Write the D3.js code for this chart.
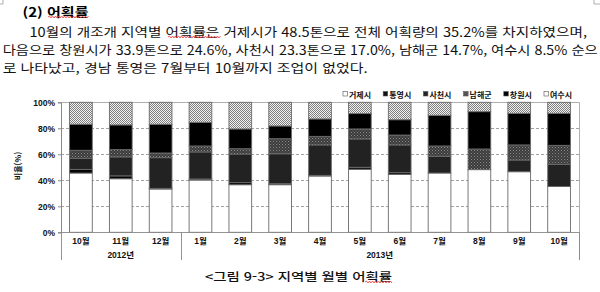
<!DOCTYPE html>
<html lang="ko">
<head>
<meta charset="utf-8">
<script src="https://cdn.jsdelivr.net/npm/d3@7"></script>
<style>
  html, body { margin: 0; padding: 0; background: #fff; }
  svg { display: block; }
</style>
</head>
<body>
<svg id="page" width="600" height="292"></svg>
<script>
// 월별 지역별 개조개 어획 비율 (%)
const categories = ["10월","11월","12월","1월","2월","3월","4월","5월","6월","7월","8월","9월","10월"];
const categoryYears = ["2012년","2012년","2012년","2013년","2013년","2013년","2013년","2013년","2013년","2013년","2013년","2013년","2013년"];
const seriesNames = ["거제시","통영시","사천시","남해군","창원시","여수시"];
const yTicks = [0, 20, 40, 60, 80, 100];

const geoje     = [45.6, 41.2, 33.3, 40.2, 36.6, 36.6, 43.3, 48.5, 44.6, 45.6, 48.2, 46.6, 35.2];
const tongyeong = [ 2.8,  2.2,  0.5,  0.8,  1.6,  0.8,  0.5,  1.5,  1.3,  0.0,  0.0,  0.0,  0.0];
const sacheon   = [ 8.5, 14.6, 23.6, 20.8, 22.0, 23.0, 23.4, 21.8, 21.3, 12.9,  0.0,  9.0, 17.0];
const namhae    = [ 6.2,  5.6,  3.6,  4.6,  4.1, 11.6,  6.6,  7.7,  7.6,  7.9, 15.9, 11.6, 14.7];
const changwon  = [20.0, 19.0, 22.1, 18.2, 15.2,  9.8, 13.4, 11.8, 11.8, 23.6, 28.7, 24.3, 24.6];
const yeosu     = [16.9, 17.4, 16.9, 15.4, 20.5, 18.2, 12.8,  8.7, 13.4, 10.0,  7.2,  8.5,  8.5];

const seriesValues = [geoje, tongyeong, sacheon, namhae, changwon, yeosu];

(function draw() {
const rows = categories.map((c, i) => {
  const r = { key: i, label: c, year: categoryYears[i] };
  seriesNames.forEach((n, k) => r[n] = seriesValues[k][i]);
  return r;
});

const svg = d3.select("#page");
const KR = "'Noto Sans CJK KR', 'Noto Sans', sans-serif";
const CHART = "'Liberation Sans', 'Noto Sans CJK KR', Arial, sans-serif";

// ---- fill patterns ----
const defs = svg.append("defs");
const checker = defs.append("pattern").attr("id", "checker")
  .attr("width", 2).attr("height", 2).attr("patternUnits", "userSpaceOnUse");
checker.append("rect").attr("width", 2).attr("height", 2).attr("fill", "#f2f2f2");
checker.append("rect").attr("width", 1).attr("height", 1).attr("fill", "#7e7e7e");
checker.append("rect").attr("x", 1).attr("y", 1).attr("width", 1).attr("height", 1).attr("fill", "#7e7e7e");

const dots = defs.append("pattern").attr("id", "dots")
  .attr("width", 3).attr("height", 3).attr("patternUnits", "userSpaceOnUse");
dots.append("rect").attr("width", 3).attr("height", 3).attr("fill", "#3a3a3a");
dots.append("rect").attr("x", 0).attr("y", 0).attr("width", 1).attr("height", 1).attr("fill", "#8c8c8c");
dots.append("rect").attr("x", 1.5).attr("y", 1.5).attr("width", 1).attr("height", 1).attr("fill", "#7a7a7a");

const fills = {
  "거제시": "#ffffff",
  "통영시": "#050505",
  "사천시": "#222222",
  "남해군": "url(#dots)",
  "창원시": "#000000",
  "여수시": "url(#checker)"
};
const legendFills = {
  "거제시": "#ffffff", "통영시": "#111", "사천시": "#222", "남해군": "#555", "창원시": "#000", "여수시": "#fff"
};

// ---- body text ----
function squiggle(x0, x1, yy) {
  const p = d3.path();
  p.moveTo(x0, yy);
  let up = true;
  for (let xx = x0 + 1.5; xx <= x1; xx += 1.5) { p.lineTo(xx, yy + (up ? -1 : 1)); up = !up; }
  svg.append("path").attr("d", p.toString()).attr("fill", "none")
    .attr("stroke", "#e33").attr("stroke-width", 0.8);
}

svg.append("text").attr("x", 22.5).attr("y", 11).attr("dominant-baseline", "central")
  .attr("font-family", KR).attr("font-weight", 700).attr("font-size", 12.5)
  .attr("textLength", 66).attr("lengthAdjust", "spacingAndGlyphs")
  .text("(2) 어획률");
squiggle(48, 89, 17);

const bodyLines = [
  { x: 29.5, y: 31.5, w: 557.5, t: "10월의 개조개 지역별 어획률은 거제시가 48.5톤으로 전체 어획량의 35.2%를 차지하였으며," },
  { x: 2.7, y: 49.5, w: 595, t: "다음으로 창원시가 33.9톤으로 24.6%, 사천시 23.3톤으로 17.0%, 남해군 14.7%, 여수시 8.5% 순으" },
  { x: 2.7, y: 67.5, w: 365, t: "로 나타났고, 경남 통영은 7월부터 10월까지 조업이 없었다." }
];
bodyLines.forEach(l => {
  svg.append("text").attr("x", l.x).attr("y", l.y).attr("dominant-baseline", "central")
    .attr("font-family", KR).attr("font-size", 12.5).attr("fill", "#111")
    .attr("textLength", l.w).attr("lengthAdjust", "spacingAndGlyphs")
    .text(l.t);
});
squiggle(168, 221, 37);

// page corner marks
svg.append("path").attr("d", "M3,0V4H0").attr("fill", "none").attr("stroke", "#999").attr("stroke-width", 0.8);
svg.append("path").attr("d", "M594,0V4H600").attr("fill", "none").attr("stroke", "#999").attr("stroke-width", 0.8);

// ---- chart ----
const pLeft = 61, pRight = 579, pTop = 102.3, pBottom = 232.3, axisLow = 260;

const x = d3.scaleBand().domain(rows.map(r => r.key)).range([pLeft, pRight])
  .paddingInner(0.43).paddingOuter(0.215);
const y = d3.scaleLinear().domain([0, 100]).range([pBottom, pTop]);

// grid
svg.append("g").selectAll("line").data(yTicks.filter(t => t > 0 && t < 100)).join("line")
  .attr("x1", pLeft).attr("x2", pRight)
  .attr("y1", d => Math.round(y(d)) + 0.5).attr("y2", d => Math.round(y(d)) + 0.5)
  .attr("stroke", "#8a8a8a").attr("stroke-width", 0.8).attr("stroke-dasharray", "3,2");

// plot frame (top and right)
svg.append("path")
  .attr("d", `M${pLeft},${Math.round(pTop) + 0.5}H${pRight + 0.5}V${axisLow}`)
  .attr("fill", "none").attr("stroke", "#9a9a9a").attr("stroke-width", 0.8);

// stacked bars
const stack = d3.stack().keys(seriesNames)(rows);
const barG = svg.append("g");
stack.forEach(layer => {
  barG.append("g").selectAll("rect")
    .data(layer.filter(d => d[1] - d[0] > 0))
    .join("rect")
    .attr("x", d => x(d.data.key))
    .attr("width", x.bandwidth())
    .attr("y", d => y(d[1]))
    .attr("height", d => y(d[0]) - y(d[1]))
    .attr("fill", fills[layer.key])
    .attr("stroke", "#6a6a6a").attr("stroke-width", 0.9);
});

// y axis
const yAxis = svg.append("g").attr("transform", `translate(${pLeft},0)`)
  .call(d3.axisLeft(y).tickValues(yTicks).tickFormat(d => d + "%").tickSize(3).tickPadding(3));
yAxis.select(".domain").attr("stroke", "#888");
yAxis.selectAll(".tick line").attr("stroke", "#888");
yAxis.selectAll("text").attr("font-family", CHART).attr("font-weight", 700)
  .attr("font-size", 8.5).attr("fill", "#111");

svg.append("text")
  .attr("transform", `translate(17,166) rotate(-90)`)
  .attr("text-anchor", "middle").attr("dominant-baseline", "central")
  .attr("font-family", KR).attr("font-weight", 700).attr("font-size", 8).attr("fill", "#111")
  .text("비율(%)");

// x axis
const xAxis = svg.append("g").attr("transform", `translate(0,${pBottom})`)
  .call(d3.axisBottom(x).tickSize(0).tickPadding(5).tickFormat(k => rows[k].label));
xAxis.select(".domain").remove();
xAxis.selectAll("text").attr("font-family", CHART).attr("font-weight", 700)
  .attr("font-size", 8.5).attr("fill", "#111").attr("dy", "0.75em");

svg.append("line").attr("x1", pLeft).attr("x2", pRight + 0.5)
  .attr("y1", Math.round(pBottom) + 0.5).attr("y2", Math.round(pBottom) + 0.5)
  .attr("stroke", "#888").attr("stroke-width", 0.9);

// year groups with separators
const yearGroups = d3.groups(rows, r => r.year);
const separators = new Set([pLeft, pRight]);
yearGroups.forEach(([yr, rs]) => {
  const x0 = x(rs[0].key) - x.step() * x.paddingInner() / 2;
  const x1 = x(rs[rs.length - 1].key) + x.bandwidth() + x.step() * x.paddingInner() / 2;
  separators.add(Math.round(x0)); separators.add(Math.round(x1));
  svg.append("text").attr("x", (x0 + x1) / 2).attr("y", 255)
    .attr("text-anchor", "middle").attr("dominant-baseline", "central")
    .attr("font-family", CHART).attr("font-weight", 700).attr("font-size", 8.5).attr("fill", "#111")
    .text(yr);
});
svg.append("g").selectAll("line").data([...separators]).join("line")
  .attr("x1", d => d + 0.5).attr("x2", d => d + 0.5)
  .attr("y1", pBottom).attr("y2", axisLow)
  .attr("stroke", "#888").attr("stroke-width", 0.9);

// legend
const legend = svg.append("g");
seriesNames.forEach((n, i) => {
  const lx = 343 + i * 40.2, ly = 94;
  legend.append("rect").attr("x", lx).attr("y", ly - 2.5).attr("width", 4.5).attr("height", 4.5)
    .attr("fill", legendFills[n]).attr("stroke", "#555").attr("stroke-width", 0.6);
  legend.append("text").attr("x", lx + 6).attr("y", ly).attr("dominant-baseline", "central")
    .attr("font-family", KR).attr("font-weight", 700).attr("font-size", 8).attr("fill", "#111")
    .text(n);
});

// caption
svg.append("text").attr("x", 205).attr("y", 276).attr("dominant-baseline", "central")
  .attr("font-family", KR).attr("font-weight", 500).attr("font-size", 11.5).attr("fill", "#111")
  .attr("textLength", 187).attr("lengthAdjust", "spacingAndGlyphs")
  .text("<그림 9-3> 지역별 월별 어획률");
squiggle(365, 392, 282);
})();
</script>
</body>
</html>
